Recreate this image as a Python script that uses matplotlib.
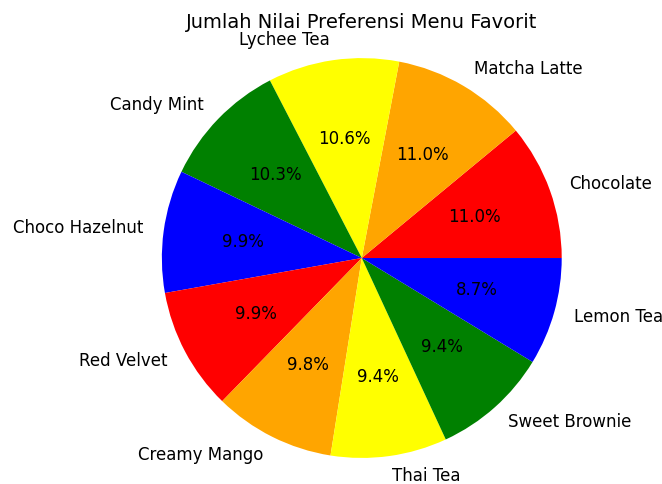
import matplotlib.pyplot as plt

# Data
menu = ['Chocolate', 'Matcha Latte', 'Lychee Tea', 'Candy Mint', 'Choco Hazelnut',
        'Red Velvet', 'Creamy Mango', 'Thai Tea', 'Sweet Brownie', 'Lemon Tea']
persen = [11.0, 11.0, 10.6, 10.3, 9.9, 9.9, 9.8, 9.4, 9.4, 8.7]
warna = ['red', 'orange', 'yellow', 'green', 'blue']

fig = plt.figure(figsize=(6.62, 4.84), dpi=100)
ax = fig.add_axes([0.169, -0.0496, 0.755, 1.033])

ax.pie(persen, labels=menu, colors=warna, autopct='%1.1f%%',
       textprops={'fontsize': 12})

fig.text(0.547, 0.953, 'Jumlah Nilai Preferensi Menu Favorit',
         ha='center', va='center', fontsize=14)

plt.savefig('out.png', dpi=100)
